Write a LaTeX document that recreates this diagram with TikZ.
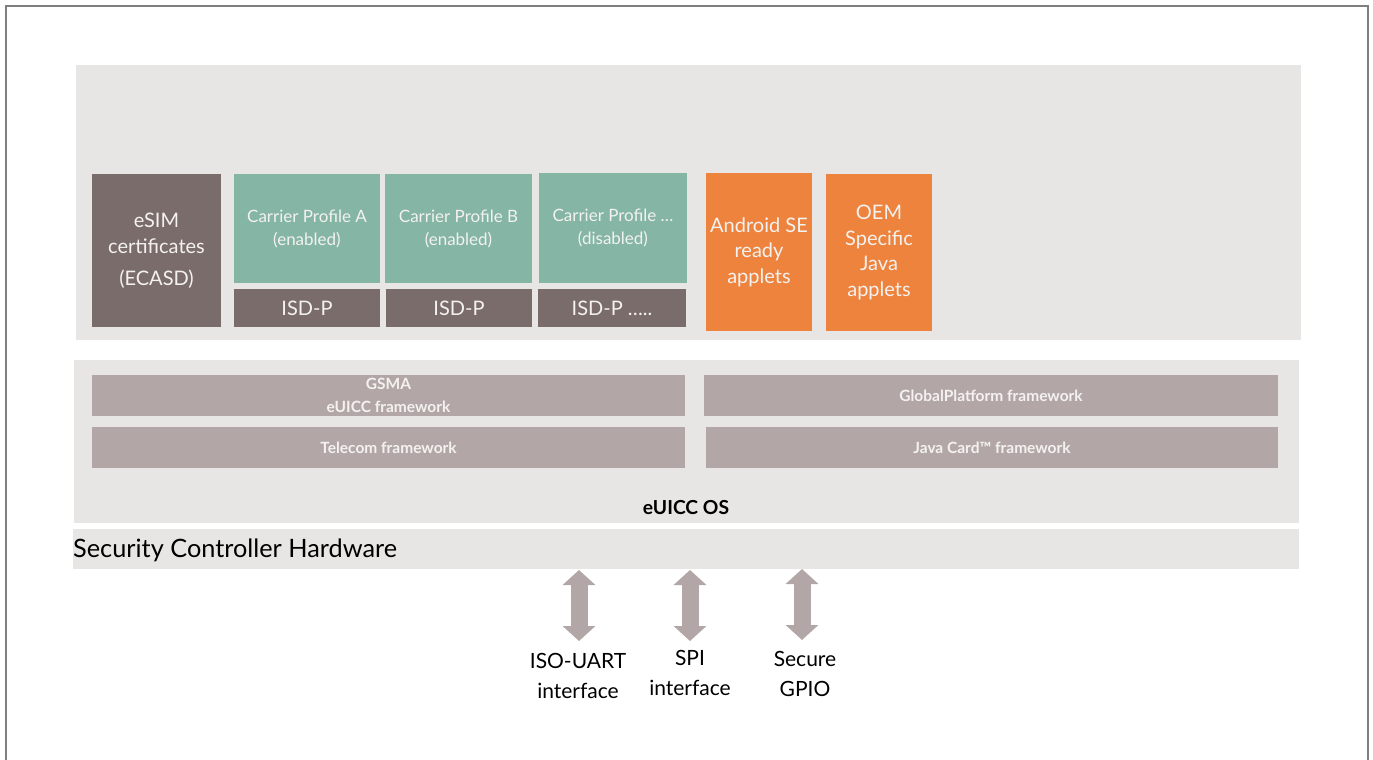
\documentclass[tikz,border=0pt]{standalone}
\usepackage{fontspec}
\setmainfont{Lato}
\usetikzlibrary{arrows.meta}

\definecolor{panelgray}{HTML}{E7E6E4}
\definecolor{mauve}{HTML}{7A6C6A}
\definecolor{sage}{HTML}{84B5A5}
\definecolor{tangerine}{HTML}{EE833E}
\definecolor{taupe}{HTML}{B2A7A6}
\definecolor{frame}{HTML}{7F7F7F}
\definecolor{softwhite}{HTML}{F4F2F0}

\tikzset{
  x=1pt, y=-1pt,
  block/.style={inner sep=0pt, outer sep=0pt, align=center, text=softwhite},
  panel/.style={block, fill=panelgray},
  certbox/.style={block, fill=mauve, font=\fontsize{20}{26}\selectfont},
  isdbox/.style={block, fill=mauve, font=\fontsize{20}{24}\selectfont},
  profilebox/.style={block, fill=sage, font=\fontsize{17}{23}\selectfont},
  appletbox/.style={block, fill=tangerine, font=\fontsize{20}{25.5}\selectfont},
  fwbar/.style={block, fill=taupe, font=\bfseries\fontsize{15.5}{23}\selectfont},
  ifarrow/.style={draw=taupe, line width=17pt,
    {Triangle[width=32pt,length=15pt]}-{Triangle[width=32pt,length=15pt]}},
  iflabel/.style={align=center, text=black, font=\fontsize{21}{30}\selectfont, inner sep=0pt}
}

\begin{document}
\begin{tikzpicture}
\useasboundingbox (0,0) rectangle (1373,760);

% outer frame (open at the bottom)
\draw[frame, line width=2pt] (5.5,760) -- (5.5,6.5) -- (1368,6.5) -- (1368,760);

% applications layer
\node[panel, minimum width=1225pt, minimum height=275pt] (apps) at (688.5,202.5) {};

\node[certbox, minimum width=129pt, minimum height=153pt] (ecasd) at (156.5,250.5)
  {eSIM\\certificates\\[6pt](ECASD)};

\node[profilebox, minimum width=146pt, minimum height=109pt] (profA) at (307,228.5)
  {Carrier Profile A\\(enabled)};
\node[isdbox, minimum width=146pt, minimum height=38pt] (isdA) at (307,308) {ISD-P};

\node[profilebox, minimum width=147pt, minimum height=109pt] (profB) at (458.5,228.5)
  {Carrier Profile B\\(enabled)};
\node[isdbox, minimum width=146pt, minimum height=38pt] (isdB) at (459,308) {ISD-P};

\node[profilebox, minimum width=148pt, minimum height=110pt] (profC) at (613,228)
  {Carrier Profile \dots\\(disabled)};
\node[isdbox, minimum width=148pt, minimum height=38pt] (isdC) at (612,308) {ISD-P \dots..};

\node[appletbox, minimum width=106pt, minimum height=158pt] (android) at (759,252)
  {Android SE\\ready\\applets};
\node[appletbox, minimum width=106pt, minimum height=157pt] (oem) at (879,252.5)
  {OEM\\Specific\\Java\\applets};

% operating system layer
\node[panel, minimum width=1225pt, minimum height=163pt] (os) at (686.5,441.5) {};

\node[fwbar, minimum width=593pt, minimum height=41pt] (gsma) at (388.5,395.5)
  {GSMA\\eUICC framework};
\node[fwbar, minimum width=593pt, minimum height=41pt] (telecom) at (388.5,447.5)
  {Telecom framework};
\node[fwbar, minimum width=574pt, minimum height=41pt] (gp) at (991,395.5)
  {GlobalPlatform framework};
\node[fwbar, minimum width=572pt, minimum height=41pt] (javacard) at (992,447.5)
  {Java Card™ framework};

\node[inner sep=0pt, font=\bfseries\fontsize{19.3}{22}\selectfont] (osname) at (686,508) {eUICC OS};

% hardware layer
\node[panel, minimum width=1226pt, minimum height=40pt] (hw) at (686,549) {};
\node[anchor=west, inner sep=0pt, font=\fontsize{25.3}{30}\selectfont] (hwname) at (73,550)
  {Security Controller Hardware};

% physical interfaces
\node[iflabel] (uart) at (578,676) {ISO-UART\\interface};
\node[iflabel] (spi) at (690,673) {SPI\\interface};
\node[iflabel] (gpio) at (805,674) {Secure\\GPIO};

\coordinate (uartTop) at (579,570);
\coordinate (uartBot) at (579,641);
\coordinate (spiTop) at (690,570);
\coordinate (spiBot) at (690,641);
\coordinate (gpioTop) at (802,569);
\coordinate (gpioBot) at (802,640);

\draw[ifarrow] (uartTop) -- (uartBot);
\draw[ifarrow] (spiTop) -- (spiBot);
\draw[ifarrow] (gpioTop) -- (gpioBot);
\end{tikzpicture}
\end{document}
